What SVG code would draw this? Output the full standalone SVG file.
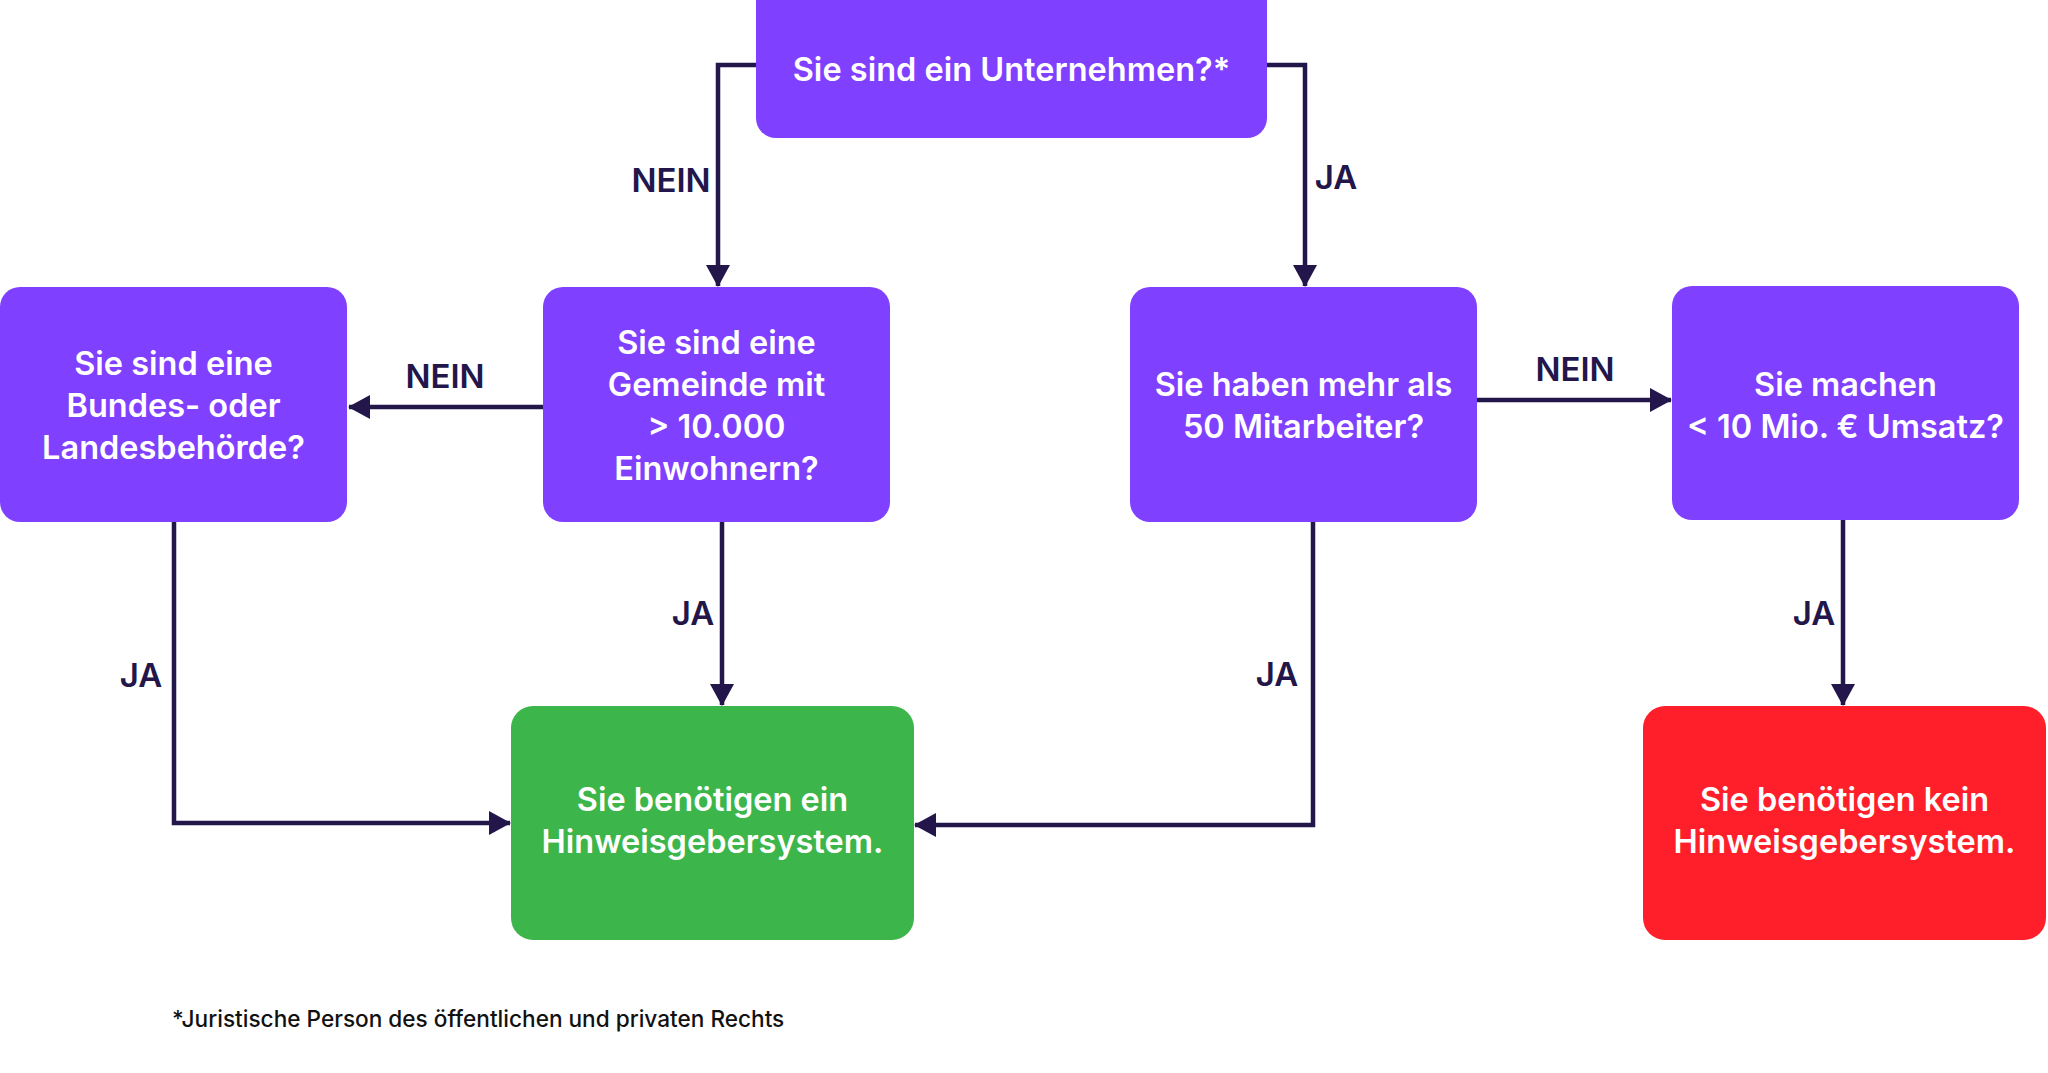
<svg xmlns="http://www.w3.org/2000/svg" width="2048" height="1073" viewBox="0 0 2048 1073">
<defs>
<style>
.q{fill:#7F40FF}
.g{fill:#3CB54B}
.r{fill:#FF1F2B}
.t{font-family:Inter,"Noto Sans",sans-serif;font-weight:600;font-size:32.5px;fill:#FFFFFF;text-anchor:middle}
.l{font-family:Inter,"Noto Sans",sans-serif;font-weight:600;font-size:33px;fill:#23164B;text-anchor:middle}
.c{fill:none;stroke:#23164B;stroke-width:4.5}
.f{font-family:Inter,"Noto Sans",sans-serif;font-weight:500;font-size:22.6px;fill:#111111}
</style>
<marker id="ah" viewBox="0 0 22 24" refX="21" refY="12" markerWidth="22" markerHeight="24" markerUnits="userSpaceOnUse" orient="auto">
<path d="M0,0 L22,12 L0,24 Z" fill="#23164B"/>
</marker>
</defs>
<rect width="2048" height="1073" fill="#FFFFFF"/>
<g id="connectors">
<path class="c" d="M756,65 H718 V286" marker-end="url(#ah)"/>
<path class="c" d="M1267,65 H1305 V286" marker-end="url(#ah)"/>
<path class="c" d="M543,407 H349" marker-end="url(#ah)"/>
<path class="c" d="M1477,400 H1671" marker-end="url(#ah)"/>
<path class="c" d="M722,522 V705" marker-end="url(#ah)"/>
<path class="c" d="M1843,520 V705" marker-end="url(#ah)"/>
<path class="c" d="M174,522 V823 H510" marker-end="url(#ah)"/>
<path class="c" d="M1313,522 V825 H915" marker-end="url(#ah)"/>
<text class="l" x="671" y="192">NEIN</text>
<text class="l" x="1336" y="189">JA</text>
<text class="l" x="445" y="388">NEIN</text>
<text class="l" x="1575" y="381">NEIN</text>
<text class="l" x="693" y="625">JA</text>
<text class="l" x="141" y="687">JA</text>
<text class="l" x="1277" y="686">JA</text>
<text class="l" x="1814" y="625">JA</text>
</g>
<g id="start">
<rect class="q" x="756" y="-20" width="511" height="158" rx="20"/>
<text class="t" x="1011.5" y="81">Sie sind ein Unternehmen?*</text>
</g>
<g id="behoerde">
<rect class="q" x="0" y="287" width="347" height="235" rx="20"/>
<text class="t" x="173.5" y="375">Sie sind eine</text>
<text class="t" x="173.5" y="417">Bundes- oder</text>
<text class="t" x="173.5" y="459">Landesbehörde?</text>
</g>
<g id="gemeinde">
<rect class="q" x="543" y="287" width="347" height="235" rx="20"/>
<text class="t" x="716.5" y="354">Sie sind eine</text>
<text class="t" x="716.5" y="396">Gemeinde mit</text>
<text class="t" x="716.5" y="438">&gt; 10.000</text>
<text class="t" x="716.5" y="480">Einwohnern?</text>
</g>
<g id="mitarbeiter">
<rect class="q" x="1130" y="287" width="347" height="235" rx="20"/>
<text class="t" x="1303.5" y="396">Sie haben mehr als</text>
<text class="t" x="1303.5" y="438">50 Mitarbeiter?</text>
</g>
<g id="umsatz">
<rect class="q" x="1672" y="286" width="347" height="234" rx="20"/>
<text class="t" x="1845.5" y="396">Sie machen</text>
<text class="t" x="1845.5" y="438">&lt; 10 Mio. € Umsatz?</text>
</g>
<g id="ja-system">
<rect class="g" x="511" y="706" width="403" height="234" rx="22"/>
<text class="t" x="712.5" y="811">Sie benötigen ein</text>
<text class="t" x="712.5" y="853">Hinweisgebersystem.</text>
</g>
<g id="kein-system">
<rect class="r" x="1643" y="706" width="403" height="234" rx="22"/>
<text class="t" x="1844.5" y="811">Sie benötigen kein</text>
<text class="t" x="1844.5" y="853">Hinweisgebersystem.</text>
</g>
<g id="footnote">
<text class="f" x="172" y="1027">*Juristische Person des öffentlichen und privaten Rechts</text>
</g>
</svg>
